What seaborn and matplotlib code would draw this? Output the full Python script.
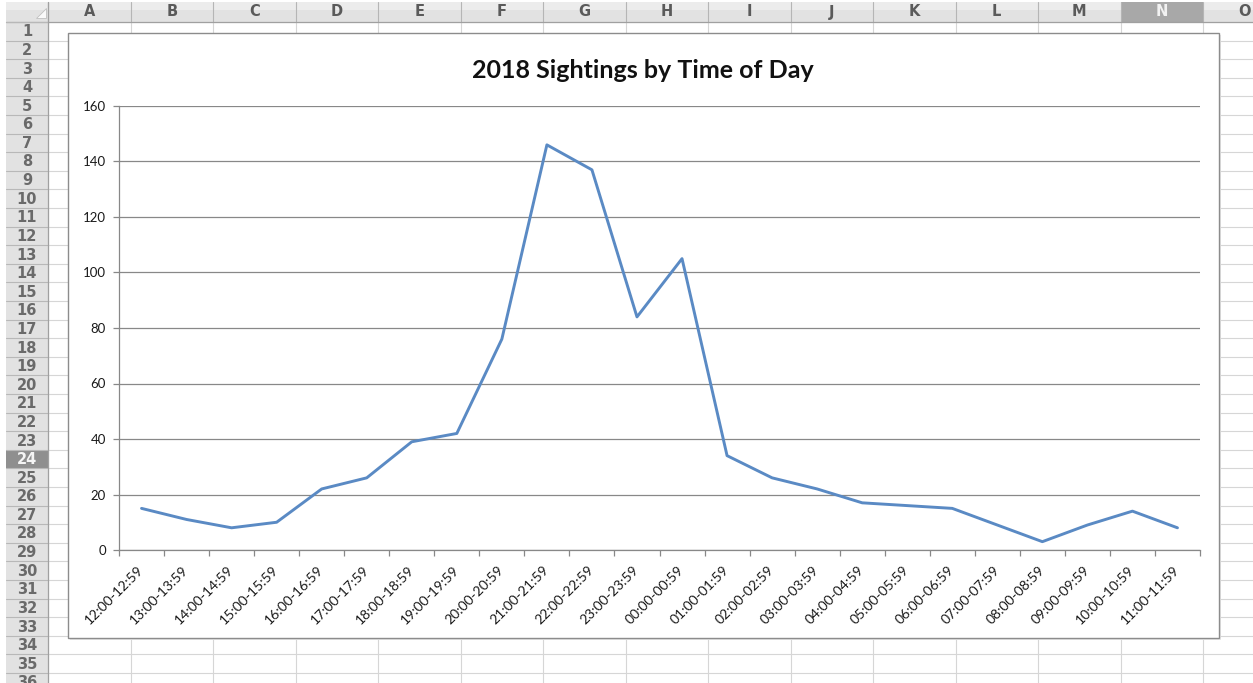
import numpy as np
import pandas as pd
import matplotlib
import matplotlib.pyplot as plt
import seaborn as sns
from matplotlib.patches import Rectangle, Polygon

matplotlib.use('Agg')

# Data
time_slots = ['12:00-12:59', '13:00-13:59', '14:00-14:59', '15:00-15:59', '16:00-16:59',
              '17:00-17:59', '18:00-18:59', '19:00-19:59', '20:00-20:59', '21:00-21:59',
              '22:00-22:59', '23:00-23:59', '00:00-00:59', '01:00-01:59', '02:00-02:59',
              '03:00-03:59', '04:00-04:59', '05:00-05:59', '06:00-06:59', '07:00-07:59',
              '08:00-08:59', '09:00-09:59', '10:00-10:59', '11:00-11:59']
sightings = [15, 11, 8, 10, 22, 26, 39, 42, 76, 146, 137, 84, 105, 34, 26, 22, 17, 16, 15, 9, 3, 9, 14, 8]
y_ticks = [0, 20, 40, 60, 80, 100, 120, 140, 160]

# Spreadsheet around the chart
col_letters = list('ABCDEFGHIJKLMNO')
row_numbers = list(range(1, 37))

sns.set_style('white')
plt.rcParams['font.family'] = ['Lato', 'DejaVu Sans']

W, H = 1253, 683
fig = plt.figure(figsize=(W / 100, H / 100), dpi=100)
fig.patch.set_facecolor('white')

# background axes in pixel coordinates for the sheet
bg = fig.add_axes([0, 0, 1, 1])
bg.set_xlim(0, W)
bg.set_ylim(H, 0)
bg.axis('off')

hdr_h = 22
row_w = 48
col_w = 82.5
row_h = 18.6
grid_col = '#d6d6d6'

# cell grid
for i in range(len(col_letters) + 1):
    x = row_w + i * col_w
    bg.plot([x, x], [hdr_h, H], color=grid_col, lw=0.8, zorder=1)
for j in range(len(row_numbers) + 1):
    y = hdr_h + j * row_h
    bg.plot([row_w, W], [y, y], color=grid_col, lw=0.8, zorder=1)

# column header
bg.add_patch(Rectangle((6, 2), W - 6, hdr_h - 2, facecolor='#e2e2e2', edgecolor='none', zorder=2))
bg.add_patch(Rectangle((6, 2), W - 6, 8, facecolor='#ececec', edgecolor='none', zorder=2))
for i, letter in enumerate(col_letters):
    x0 = row_w + i * col_w
    selected = letter == 'N'
    if selected:
        bg.add_patch(Rectangle((x0, 2), col_w, hdr_h - 2, facecolor='#a8a8a8', edgecolor='none', zorder=2))
    bg.plot([x0, x0], [2, hdr_h], color='#b5b5b5', lw=0.8, zorder=3)
    bg.text(x0 + col_w / 2, hdr_h / 2 + 1, letter, ha='center', va='center', fontsize=10.5,
            fontweight='bold', color='#f2f2f2' if selected else '#5a5a5a', family='DejaVu Sans', zorder=4)
bg.plot([6, W], [hdr_h, hdr_h], color='#a0a0a0', lw=0.9, zorder=3)

# row header
bg.add_patch(Rectangle((6, hdr_h), row_w - 6, H - hdr_h, facecolor='#e2e2e2', edgecolor='none', zorder=2))
for j, num in enumerate(row_numbers):
    y0 = hdr_h + j * row_h
    selected = num == 24
    if selected:
        bg.add_patch(Rectangle((6, y0), row_w - 6, row_h, facecolor='#8f8f8f', edgecolor='none', zorder=2))
    bg.plot([6, row_w], [y0, y0], color='#b8b8b8', lw=0.8, zorder=3)
    bg.text(27, y0 + row_h / 2 + 0.5, str(num), ha='center', va='center', fontsize=10.5,
            fontweight='bold', color='#f5f5f5' if selected else '#6a6a6a', family='DejaVu Sans', zorder=4)
bg.plot([row_w, row_w], [2, H], color='#a0a0a0', lw=0.9, zorder=3)

# corner triangle
bg.add_patch(Polygon([[36, 18], [46, 18], [46, 8]], closed=True, facecolor='#fafafa',
                     edgecolor='#c0c0c0', lw=0.6, zorder=4))

# chart area
bg.add_patch(Rectangle((70, 35), 1151, 605, facecolor='#e6e6e6', edgecolor='none', zorder=5))
bg.add_patch(Rectangle((68, 33), 1151, 605, facecolor='white', edgecolor='#8c8c8c', lw=1.0, zorder=6))

# title
fig.text(642.5 / W, 1 - 71 / H, '2018 Sightings by Time of Day', ha='center', va='center',
         fontsize=18, fontweight='bold', color='#111111')

# plot area
left, right, top, bottom = 119, 1200, 106, 550
ax = fig.add_axes([left / W, 1 - bottom / H, (right - left) / W, (bottom - top) / H])
ax.set_facecolor('none')
ax.set_zorder(10)

df = pd.DataFrame({'pos': np.arange(len(time_slots)), 'count': sightings})
sns.lineplot(data=df, x='pos', y='count', ax=ax, color='#5a8ac4', linewidth=2.1, sort=False)

axis_col = '#888888'
ax.set_xlim(-0.5, len(time_slots) - 0.5)
ax.set_ylim(0, 160)
ax.set_yticks(y_ticks)
ax.set_yticklabels([str(v) for v in y_ticks])
ax.yaxis.grid(True, color=axis_col, lw=0.9)
ax.xaxis.grid(False)
ax.set_axisbelow(True)

ax.set_xticks(np.arange(-0.5, len(time_slots)))
ax.set_xticklabels([])
ax.set_xticks(np.arange(len(time_slots)), minor=True)
ax.set_xticklabels(time_slots, minor=True, rotation=45, ha='right', va='center',
                   rotation_mode='anchor', fontsize=10, color='#1a1a1a')

ax.tick_params(axis='x', which='major', direction='out', length=4, width=0.9, color=axis_col, bottom=True)
ax.tick_params(axis='x', which='minor', length=0, pad=13, bottom=True)
ax.tick_params(axis='y', direction='out', length=4.3, width=0.9, color=axis_col, pad=5,
               labelsize=9.5, labelcolor='#1a1a1a', left=True)

for side in ['top', 'right']:
    ax.spines[side].set_visible(False)
for side in ['left', 'bottom']:
    ax.spines[side].set_color(axis_col)
    ax.spines[side].set_linewidth(0.9)

ax.set_xlabel('')
ax.set_ylabel('')

fig.savefig('out.png', dpi=100)
